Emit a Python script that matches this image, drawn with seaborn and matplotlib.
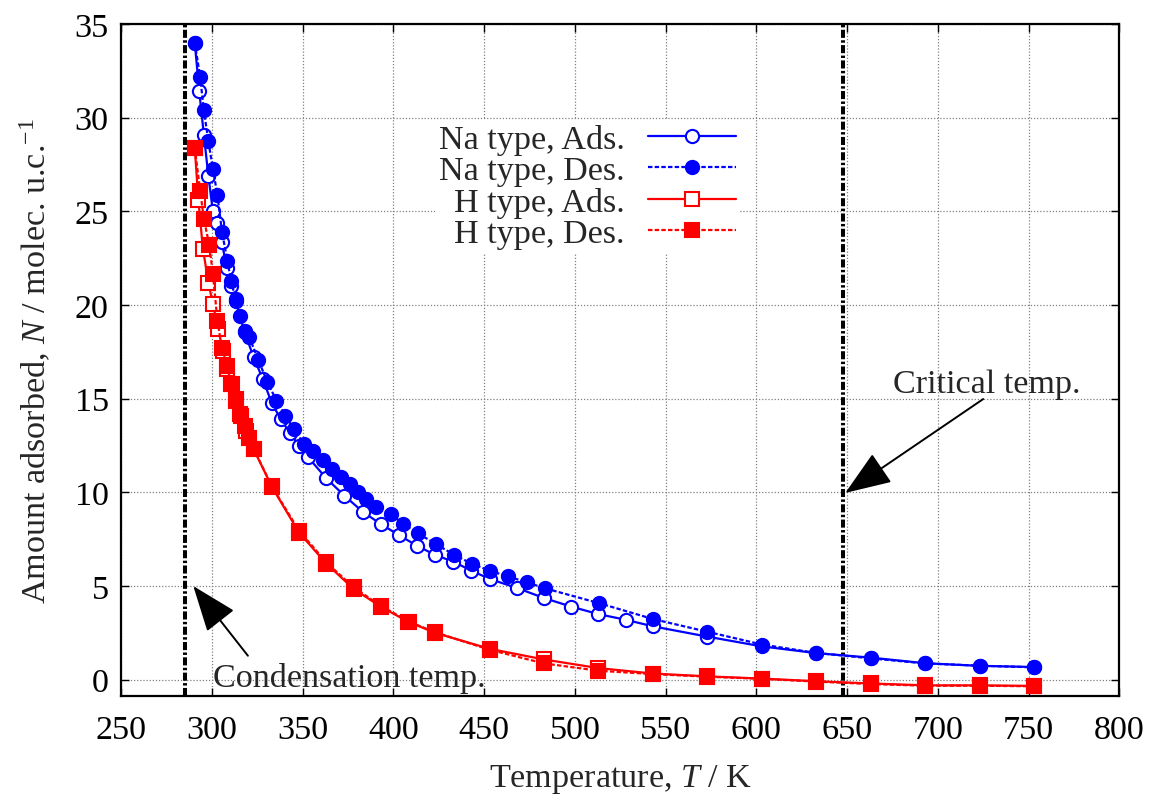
import numpy as np
import pandas as pd
import matplotlib
matplotlib.use("Agg")
import matplotlib.pyplot as plt
import seaborn as sns

# ---------------- data ----------------
na_ads_T = [290.5, 293, 295.5, 298, 300.5, 303, 305.5, 308, 310.5, 313, 318, 323, 328, 333,
            338, 343, 348, 353, 363, 373, 383, 393, 403, 413, 423, 433, 443, 453, 468, 483,
            498, 513, 528, 543, 573, 603, 633, 663, 693, 723, 753]
na_ads_N = [34.0, 31.4, 29.1, 26.9, 25.0, 24.4, 23.35, 22.0, 21.0, 20.2, 18.55, 17.2, 16.05, 14.75,
            13.9, 13.15, 12.5, 11.87, 10.75, 9.82, 8.97, 8.31, 7.72, 7.15, 6.66, 6.3, 5.82, 5.38, 4.9, 4.36,
            3.9, 3.5, 3.2, 2.85, 2.3, 1.78, 1.42, 1.18, 0.88, 0.74, 0.68]

na_des_T = [290.5, 293.5, 295.5, 298, 300.5, 303, 305.5, 308.5, 310.5, 313, 315.5, 318, 320.5,
            325.5, 330.5, 335.5, 340.5, 345, 350.5, 355.5, 361, 366, 371, 376, 380.5, 385, 390.5,
            398.5, 405.5, 413.5, 423.5, 433.5, 443.5, 453, 463, 473.5, 483.5, 513.5, 543, 573,
            603, 633, 663, 693, 723, 753]
na_des_N = [34.0, 32.15, 30.4, 28.75, 27.26, 25.87, 23.9, 22.37, 21.27, 20.33, 19.4, 18.6, 18.3,
            17.07, 15.9, 14.9, 14.1, 13.4, 12.6, 12.2, 11.74, 11.25, 10.8, 10.45, 10.0, 9.65, 9.24,
            8.85, 8.31, 7.81, 7.24, 6.66, 6.18, 5.82, 5.52, 5.2, 4.88, 4.08, 3.24, 2.56,
            1.88, 1.43, 1.14, 0.87, 0.75, 0.66]

h_ads_T = [290.5, 292.5, 295, 298, 300.5, 303.5, 306, 308.5, 311, 313.5, 316, 318.5, 323, 333,
           348, 363, 378, 393, 408, 423, 453, 483, 513, 543, 573, 603, 633, 663, 693, 723, 753]
h_ads_N = [28.4, 25.6, 23.0, 21.2, 20.05, 18.7, 17.56, 16.6, 15.8, 14.9, 14.1, 13.3, 12.3, 10.3,
           7.85, 6.2, 4.85, 3.9, 3.1, 2.5, 1.65, 1.08, 0.62, 0.33, 0.18, 0.06, -0.08, -0.2, -0.3, -0.3, -0.33]

h_des_T = [290.5, 293.5, 295.5, 298.5, 300.5, 303, 305.5, 308.5, 310.5, 313, 315.5, 318, 320.5,
           323, 333, 348, 363, 378, 393, 408.5, 423, 453, 483, 513, 543, 573, 603, 633, 663,
           693, 723, 753]
h_des_N = [28.37, 26.1, 24.6, 23.2, 21.66, 19.16, 17.69, 16.73, 15.78, 14.97, 14.17, 13.56, 12.92,
           12.33, 10.32, 7.95, 6.27, 4.93, 3.95, 3.1, 2.53, 1.6, 0.87, 0.48, 0.3, 0.16, 0.05, -0.1, -0.23,
           -0.32, -0.32, -0.35]

series_labels = ["Na type, Ads.", "Na type, Des.", "H type, Ads.", "H type, Des."]
condensation_T = 285.0
critical_T = 647.5
x_ticks = [250, 300, 350, 400, 450, 500, 550, 600, 650, 700, 750, 800]
y_ticks = [0, 5, 10, 15, 20, 25, 30, 35]

# ---------------- style ----------------
sns.set_style("ticks")
plt.rcParams["font.family"] = ["Liberation Serif", "DejaVu Serif"]
plt.rcParams["mathtext.fontset"] = "custom"
plt.rcParams["mathtext.rm"] = "Liberation Serif"
plt.rcParams["mathtext.it"] = "Liberation Serif:italic"
plt.rcParams["mathtext.bf"] = "Liberation Serif:bold"

FS = 24.6

fig = plt.figure(figsize=(11.57, 8.03), dpi=100)
ax = fig.add_axes([0.1048, 0.1316, 0.8626, 0.8373])

blue = "#0000ff"
red = "#ff0000"
dotted = (0, (2.0, 1.0))

specs = [
    (na_ads_T, na_ads_N, blue, "-", "o", "white"),
    (na_des_T, na_des_N, blue, dotted, "o", blue),
    (h_ads_T, h_ads_N, red, "-", "s", "white"),
    (h_des_T, h_des_N, red, dotted, "s", red),
]
for (T, N, col, ls, mk, mfc), lab in zip(specs, series_labels):
    df = pd.DataFrame({"T": T, "N": N})
    sns.lineplot(data=df, x="T", y="N", ax=ax, sort=False, estimator=None,
                 color=col, linestyle=ls, linewidth=1.6, marker=mk,
                 markersize=9.5 if mk == "o" else 10, markerfacecolor=mfc,
                 markeredgecolor=col, markeredgewidth=1.5, label=lab, zorder=3)

# vertical reference lines
for xv in (condensation_T, critical_T):
    ax.axvline(xv, color="black", linewidth=2.9, linestyle=(0, (2.0, 0.6, 0.6, 0.6)), zorder=2)

# annotations with arrows
arrow_kw = dict(arrowstyle="-|>,head_length=2.9,head_width=1.1", color="black",
                linewidth=1.4, mutation_scale=10, shrinkA=0, shrinkB=0)
ax.annotate("", xy=(289.7, 5.0), xytext=(319.8, 1.28), arrowprops=arrow_kw, zorder=4)
ax.annotate("", xy=(649.0, 9.97), xytext=(725.0, 14.98), arrowprops=arrow_kw, zorder=4)
ax.text(300.5, -0.33, "Condensation temp.", fontsize=FS, ha="left", va="baseline", zorder=4)
ax.text(675.5, 15.34, "Critical temp.", fontsize=FS, ha="left", va="baseline", zorder=4)

# axes
ax.set_xlim(250, 800)
ax.set_ylim(-0.886, 35)
ax.set_xticks(x_ticks)
ax.set_yticks(y_ticks)
ax.tick_params(axis="both", direction="in", length=6, width=1, labelsize=FS,
               top=True, right=True, colors="black")
ax.tick_params(axis="x", pad=13)
ax.tick_params(axis="y", pad=9)
for s in ax.spines.values():
    s.set_linewidth(1.6)
    s.set_color("black")
ax.grid(True, color="#808080", linewidth=0.9, linestyle=(0, (1, 1.5)), zorder=0)
ax.set_axisbelow(True)

ax.set_xlabel(r"Temperature, $T$ / K", fontsize=FS, labelpad=12)
ax.set_ylabel(r"Amount adsorbed, $N$ / molec. u.c.$^{-1}$", fontsize=FS, labelpad=15)

leg = ax.legend(loc="upper right", bbox_to_anchor=(0.619, 0.857), markerfirst=False,
                fontsize=FS, frameon=True, framealpha=1.0, facecolor="white",
                edgecolor="none", fancybox=False, borderpad=0.1, labelspacing=0.02,
                handlelength=2.55, handletextpad=0.7, borderaxespad=0)
leg.set_zorder(5)

fig.savefig("out.png", dpi=100)
